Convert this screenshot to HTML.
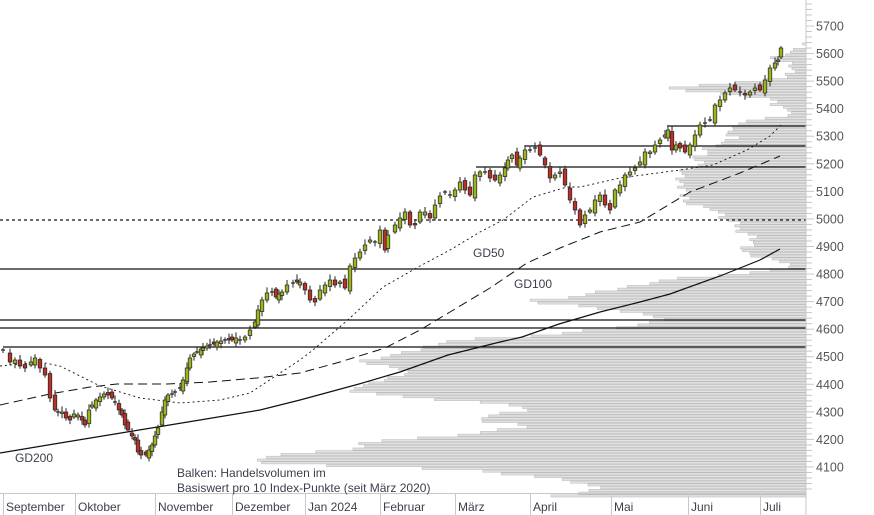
<!DOCTYPE html>
<html><head><meta charset="utf-8"><style>
html,body{margin:0;padding:0;background:#fff;}
svg{display:block;font-family:"Liberation Sans",sans-serif;}
</style></head><body>
<svg id="c" width="874" height="515" viewBox="0 0 874 515" xmlns="http://www.w3.org/2000/svg">
<rect width="874" height="515" fill="#fff"/>
<g id="vol"></g>
<g id="lines"></g>
<g id="ma"></g>
<g id="cand"></g>
<g id="axis"></g>
<text x="473" y="257" font-size="12" fill="#3a3f4a">GD50</text>
<text x="514" y="288" font-size="12" fill="#3a3f4a">GD100</text>
<text x="15" y="462" font-size="12" fill="#3a3f4a">GD200</text>
<text x="177" y="477" font-size="12" fill="#3a3f4a">Balken: Handelsvolumen im</text>
<text x="177" y="492" font-size="12" fill="#3a3f4a">Basiswert pro 10 Index-Punkte (seit März 2020)</text>
</svg>
<script>
(function(){
var NS="http://www.w3.org/2000/svg";
function el(p,t,a){var e=document.createElementNS(NS,t);for(var k in a)e.setAttribute(k,a[k]);document.getElementById(p).appendChild(e);return e;}
function Y(v){return 26+(5700-v)*0.2756;}
var vk=[[3990,520],[4000,570],[4020,600],[4040,584],[4060,550],[4080,493],[4090,468],[4100,381],[4110,260],[4140,262],[4150,300],[4160,341],[4180,374],[4190,355],[4200,404],[4220,468],[4230,490],[4250,533],[4270,472],[4290,496],[4310,535],[4320,515],[4340,467],[4350,409],[4380,344],[4400,371],[4420,386],[4450,411],[4480,358],[4500,384],[4520,415],[4550,436],[4560,455],[4580,550],[4600,600],[4620,652],[4640,665],[4660,628],[4680,592],[4700,520],[4720,580],[4780,665],[4800,730],[4810,770],[4830,790],[4840,793],[4850,778],[4870,745],[4890,740],[4900,748],[4920,755],[4940,753],[4960,738],[4980,737],[4990,732],[5000,723],[5020,720],[5040,713],[5050,687],[5070,690],[5090,680],[5100,687],[5120,679],[5140,680],[5160,682],[5180,687],[5200,705],[5210,692],[5230,698],[5240,708],[5260,707],[5280,728],[5300,740],[5310,717],[5330,737],[5350,733],[5360,760],[5370,780],[5390,797],[5400,790],[5410,772],[5420,773],[5440,768],[5450,730],[5460,702],[5470,670],[5480,678],[5490,713],[5500,760],[5510,783],[5520,787],[5540,790],[5560,793],[5580,772],[5600,785],[5610,798],[5630,803]];
function vi(p){for(var i=0;i<vk.length-1;i++){if(p>=vk[i][0]&&p<=vk[i+1][0]){var t=(p-vk[i][0])/(vk[i+1][0]-vk[i][0]);return vk[i][1]+t*(vk[i+1][1]-vk[i][1]);}}return 805;}
for(var p=3990;p<5640;p+=10){var l=vi(p+5)+((p*37)%11-5)*1.2;if(l>804)continue;var yy=Y(p+10);
el("vol","rect",{x:l.toFixed(1),y:(yy+0.3).toFixed(1),width:(806-l).toFixed(1),height:"2.2",fill:"#e2e2e2",stroke:"#bcbcbc","stroke-width":"0.6"});}
function hl(x1,y,x2,d){el("lines","line",{x1:x1,y1:y,x2:x2,y2:y,stroke:"#111","stroke-width":"1.2","stroke-dasharray":d||"none"});}
hl(0,220,806,"3,3");hl(0,269,806);hl(0,320,806);hl(0,328,806);hl(3,347,806);
hl(667,126,806);hl(525,146,806);hl(476,167,806);
function pl(pts,d,w){el("ma","polyline",{points:pts.map(function(a){return a.join(",")}).join(" "),fill:"none",stroke:"#111","stroke-width":w||1,"stroke-dasharray":d});}
pl([[0,366],[40,362],[60,366],[100,386],[140,398],[180,403],[220,400],[250,393],[280,373],[300,360],[313,350],[350,318],[383,287],[420,266],[450,250],[480,232],[503,220],[533,197],[567,187],[580,187],[620,178],[680,170],[713,165],[747,150],[770,136],[782,124]],"2,3",0.9);
pl([[0,405],[50,394],[90,387],[117,384],[167,384],[210,382],[257,378],[300,373],[340,362],[385,348],[420,330],[450,312],[490,288],[527,263],[560,248],[600,232],[640,222],[690,192],[740,173],[780,156]],"9,5",1);
pl([[0,453],[60,443],[127,432],[200,420],[260,410],[300,400],[359,384],[400,372],[448,355],[500,342],[522,337],[559,324],[600,312],[640,302],[670,294],[720,276],[760,260],[780,249]],"none",1.2);
var cs=[[3,350],[10,362],[15,360],[20,366],[25,368],[31,362],[35,358],[40,368],[45,375],[50,398],[55,410],[58,412],[62,412],[66,418],[70,420],[74,414],[78,415],[82,420],[85,425],[89,410],[92,405],[96,400],[100,397],[104,394],[108,395],[112,398],[115,402],[119,410],[122,415],[125,425],[128,430],[132,436],[135,440],[138,452],[141,455],[146,455],[149,450],[152,445],[155,436],[158,428],[162,412],[165,400],[168,395],[172,394],[175,392],[180,388],[183,380],[187,368],[190,358],[194,354],[197,352],[201,349],[203,348],[207,346],[210,345],[214,344],[217,342],[221,341],[225,340],[229,340],[232,340],[236,338],[240,340],[245,337],[250,330],[255,322],[258,310],[262,300],[267,293],[272,292],[276,297],[279,294],[282,292],[287,285],[293,283],[297,282],[300,282],[305,290],[310,300],[315,302],[320,290],[325,285],[330,280],[335,285],[340,282],[345,288],[350,266],[355,258],[360,252],[365,245],[370,240],[375,242],[380,230],[385,250],[388,235],[395,225],[400,218],[405,212],[410,225],[415,225],[420,212],[425,212],[430,218],[435,205],[440,196],[445,192],[450,195],[455,190],[460,182],[465,190],[470,195],[475,175],[480,172],[485,172],[490,178],[495,180],[500,175],[505,168],[508,160],[512,155],[517,165],[520,158],[525,150],[530,150],[535,148],[540,155],[545,165],[550,178],[555,175],[560,172],[565,185],[570,200],[575,210],[580,225],[585,215],[590,210],[595,200],[600,195],[605,205],[610,210],[615,190],[620,185],[625,175],[630,172],[635,168],[640,162],[645,152],[650,152],[655,145],[660,140],[665,135],[668,130],[672,150],[676,145],[680,148],[685,152],[690,145],[695,135],[700,125],[705,123],[710,120],[715,105],[720,100],[725,93],[730,88],[735,90],[740,92],[745,95],[750,92],[755,88],[760,90],[765,80],[770,68],[775,63],[778,60],[781,48]];
var prev=cs[0][1]+4;
for(var i=0;i<cs.length;i++){var cx=cs[i][0],c=cs[i][1],o=prev;var n=((i*53)%7);
var op=o+((i*29)%5-2)*1.5;var tp=Math.min(op,c),bt=Math.max(op,c);var h=bt-tp;
var hi=tp-2-n*0.6,lo=bt+2+((i*17)%5)*0.7;
el("cand","line",{x1:cx,y1:hi.toFixed(1),x2:cx,y2:lo.toFixed(1),stroke:"#222","stroke-width":"1"});
if(h<1.5){el("cand","line",{x1:cx-2,y1:c,x2:cx+2,y2:c,stroke:"#222","stroke-width":"1.2"});}
else{el("cand","rect",{x:cx-1.8,y:tp.toFixed(1),width:3.6,height:h.toFixed(1),fill:(c<op?"#9bb521":"#b8322a"),stroke:"#222","stroke-width":"0.7"});}
prev=c;}
el("axis","line",{x1:806,y1:0,x2:806,y2:515,stroke:"#c8c8c8","stroke-width":"1"});
el("axis","line",{x1:0,y1:493.5,x2:806,y2:493.5,stroke:"#c8c8c8","stroke-width":"1"});
for(var v=4020;v<=5780;v+=20){var ty=Y(v);if(ty>492)continue;var maj=v%100==0;
el("axis","line",{x1:806,y1:ty,x2:maj?814:812,y2:ty,stroke:"#c8c8c8","stroke-width":"1"});
if(maj&&v>=4100&&v<=5700){var t=el("axis","text",{x:816,y:ty+4.5,"font-size":"12.5",fill:"#555"});t.textContent=v;}}
var ms=[["September",3],["Oktober",75],["November",155],["Dezember",232],["Jan 2024",305],["Februar",380],["März",455],["April",530],["Mai",611],["Juni",688],["Juli",760]];
ms.forEach(function(m){el("axis","line",{x1:m[1]+0.5,y1:493,x2:m[1]+0.5,y2:515,stroke:"#c8c8c8","stroke-width":"1"});
var t=el("axis","text",{x:m[1]+3,y:511,"font-size":"12",fill:"#3a3f4a"});t.textContent=m[0];});
})();
</script>
</body></html>
